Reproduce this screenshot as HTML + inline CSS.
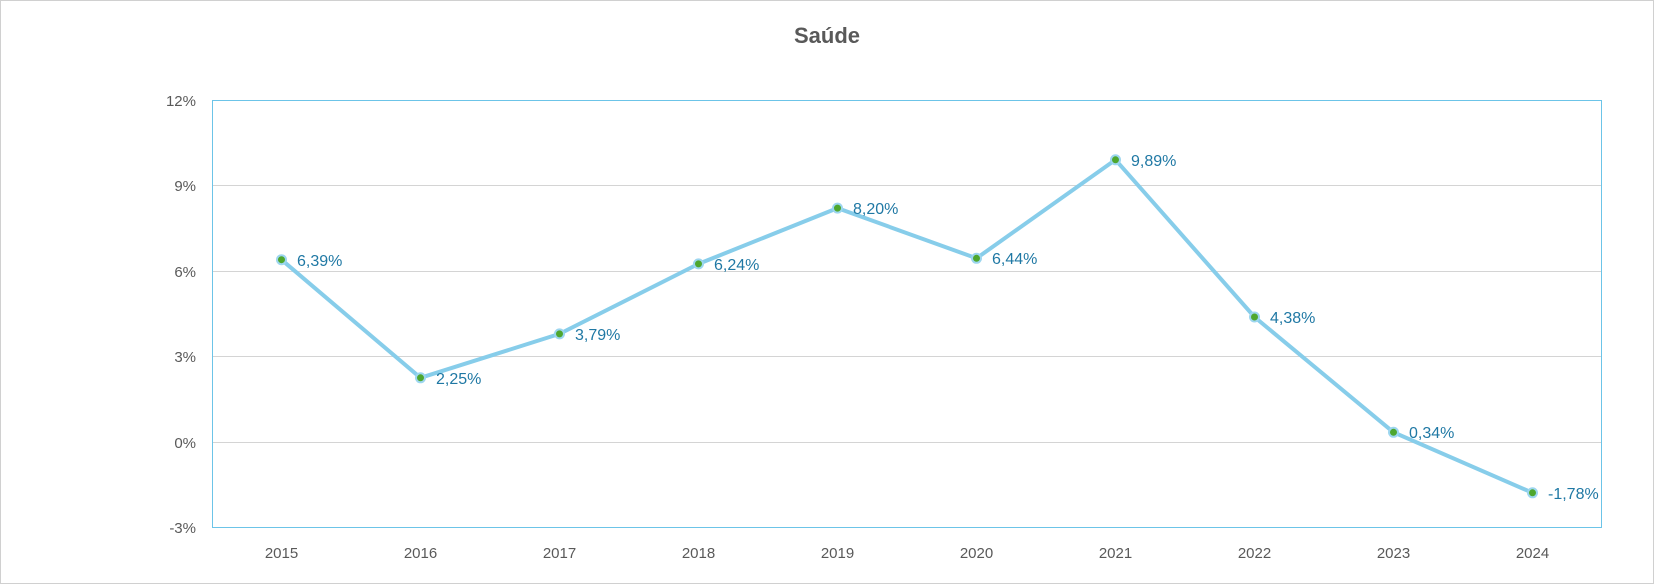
<!DOCTYPE html><html><head><style>body{margin:0}svg{display:block}</style></head><body>
<svg width="1654" height="584" xmlns="http://www.w3.org/2000/svg" font-family="Liberation Sans, sans-serif">
<rect x="0.5" y="0.5" width="1653" height="583" fill="#fff" stroke="#d0d0d0"/>
<text x="827" y="43" text-anchor="middle" font-size="22" font-weight="bold" fill="#595959">Saúde</text>
<g stroke="#d4d4d4" stroke-width="1">
<line x1="212" y1="185.5" x2="1602" y2="185.5"/><line x1="212" y1="271.5" x2="1602" y2="271.5"/><line x1="212" y1="356.5" x2="1602" y2="356.5"/><line x1="212" y1="442.5" x2="1602" y2="442.5"/>
</g>
<rect x="212.5" y="100.5" width="1389" height="427" fill="none" stroke="#6cc4e8"/>
<g font-size="15" fill="#595959" text-anchor="end">
<text x="196" y="106">12%</text><text x="196" y="191">9%</text><text x="196" y="277">6%</text><text x="196" y="362">3%</text><text x="196" y="448">0%</text><text x="196" y="533">-3%</text>
</g>
<g font-size="15" fill="#595959" text-anchor="middle">
<text x="281.5" y="558">2015</text><text x="420.5" y="558">2016</text><text x="559.5" y="558">2017</text><text x="698.5" y="558">2018</text><text x="837.5" y="558">2019</text><text x="976.5" y="558">2020</text><text x="1115.5" y="558">2021</text><text x="1254.5" y="558">2022</text><text x="1393.5" y="558">2023</text><text x="1532.5" y="558">2024</text>
</g>
<polyline fill="none" stroke="#87cdea" stroke-width="4" stroke-linejoin="round" points="281.5,259.7 420.5,377.8 559.5,333.9 698.5,263.9 837.5,208.1 976.5,258.3 1115.5,159.8 1254.5,317 1393.5,432.3 1532.5,492.8"/>
<g fill="#4ea72e" stroke="#9dd6ef" stroke-width="2">
<circle cx="281.5" cy="259.7" r="4.5"/><circle cx="420.5" cy="377.8" r="4.5"/><circle cx="559.5" cy="333.9" r="4.5"/><circle cx="698.5" cy="263.9" r="4.5"/><circle cx="837.5" cy="208.1" r="4.5"/><circle cx="976.5" cy="258.3" r="4.5"/><circle cx="1115.5" cy="159.8" r="4.5"/><circle cx="1254.5" cy="317" r="4.5"/><circle cx="1393.5" cy="432.3" r="4.5"/><circle cx="1532.5" cy="492.8" r="4.5"/>
</g>
<g font-size="16" fill="#1f78a4">
<text x="297" y="266">6,39%</text><text x="436" y="384">2,25%</text><text x="575" y="340">3,79%</text><text x="714" y="270">6,24%</text><text x="853" y="214">8,20%</text><text x="992" y="264">6,44%</text><text x="1131" y="166">9,89%</text><text x="1270" y="323">4,38%</text><text x="1409" y="438">0,34%</text><text x="1548" y="499">-1,78%</text>
</g>
</svg>
</body></html>
